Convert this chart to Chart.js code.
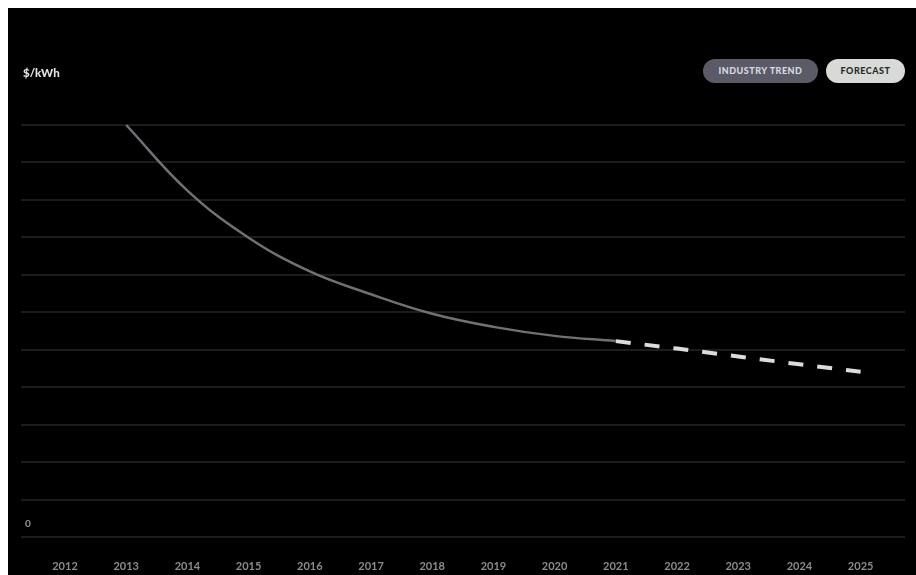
<!DOCTYPE html>
<html>
<head>
<meta charset="utf-8">
<script src="https://cdn.jsdelivr.net/npm/chart.js@4"></script>
<style>
  html, body { margin: 0; padding: 0; background: #fff; overflow: hidden; }
  .panel {
    position: absolute; left: 8px; top: 8px;
    width: 908px; height: 567px;
    background: #000;
    font-family: "Lato", "Open Sans", sans-serif;
  }
  .unit {
    position: absolute; left: 15px; top: 58px;
    color: #e2e2e2; font-size: 11.5px; font-weight: 900;
  }
  .zero {
    position: absolute; left: 17px; top: 509px;
    color: #9a9a9a; font-size: 10px; font-weight: 700;
  }
  .pill {
    position: absolute; top: 51px; height: 24px; line-height: 24px;
    border-radius: 12px; text-align: center;
    font-size: 9px; font-weight: 900; letter-spacing: 0.5px;
  }
  .pill.trend { left: 695px; width: 115px; background: #5b5b67; color: #d8d8e0; }
  .pill.forecast { left: 818px; width: 79px; background: #d7dad7; color: #2a2a2a; }
</style>
</head>
<body>
<div class="panel">
  <canvas id="costChart"></canvas>
  <div class="unit">$/kWh</div>
  <div class="zero">0</div>
  <div class="pill trend">INDUSTRY TREND</div>
  <div class="pill forecast">FORECAST</div>
</div>
<script>
// years on the x axis
const years = [2012, 2013, 2014, 2015, 2016, 2017, 2018, 2019, 2020, 2021, 2022, 2023, 2024, 2025];
// industry trend (grid units), solid grey curve
const trend = [null, 11.0, 9.25, 7.99, 7.09, 6.48, 5.96, 5.61, 5.37, 5.23, null, null, null, null];
// forecast, dashed light line
const forecast = [null, null, null, null, null, null, null, null, null, 5.23, 5.03, 4.82, 4.61, 4.41];
// horizontal grid levels
const gridLevels = [0, 1, 2, 3, 4, 5, 6, 7, 8, 9, 10, 11];

function toPoints(values) {
  return years.map((y, i) => ({ x: y, y: values[i] }));
}

document.addEventListener('DOMContentLoaded', function() {
  const ctx = document.getElementById('costChart');
  new Chart(ctx, {
    type: 'line',
    data: {
      datasets: [
        {
          label: 'Industry Trend',
          data: toPoints(trend),
          borderColor: '#707076',
          borderWidth: 2.5,
          pointRadius: 0,
          tension: 0.4,
          spanGaps: false,
          fill: false
        },
        {
          label: 'Forecast',
          data: toPoints(forecast),
          borderColor: '#dcdcdc',
          borderWidth: 4,
          borderDash: [15, 14],
          borderCapStyle: 'butt',
          pointRadius: 0,
          spanGaps: false,
          fill: false
        }
      ]
    },
    options: {
      responsive: true,
      maintainAspectRatio: false,
      animation: false,
      clip: false,
      layout: { padding: { left: 13, right: 11, top: 117, bottom: 0 } },
      plugins: {
        legend: { display: false },
        tooltip: { enabled: false }
      },
      scales: {
        x: {
          type: 'linear',
          min: 2011.281,
          max: 2025.725,
          afterBuildTicks: function(scale) {
            scale.ticks = years.map(v => ({ value: v }));
          },
          afterFit: function(scale) { scale.height = 38; },
          grid: { display: false, drawTicks: false },
          border: { display: false },
          ticks: {
            color: '#8c8c8c',
            padding: 23,
            maxRotation: 0,
            autoSkip: false,
            font: { family: 'Lato', size: 11, weight: '700' },
            callback: v => String(v)
          }
        },
        y: {
          min: 0,
          max: 11,
          afterBuildTicks: function(scale) {
            scale.ticks = gridLevels.map(v => ({ value: v }));
          },
          afterFit: function(scale) { scale.width = 0; },
          grid: { color: '#1c1c1c', lineWidth: 2, drawTicks: false },
          border: { display: false },
          ticks: { display: false }
        }
      }
    }
  });
});
</script>
</body>
</html>
